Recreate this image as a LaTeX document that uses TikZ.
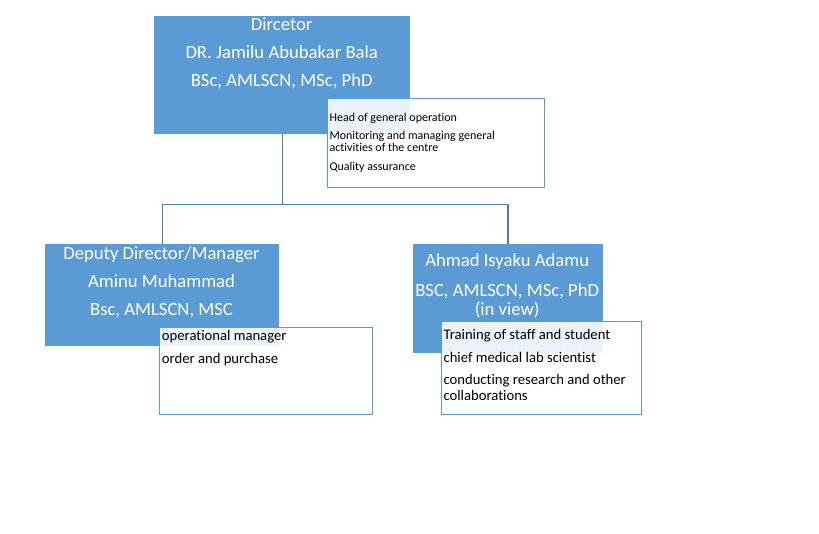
\documentclass[tikz,border=0pt]{standalone}
\usepackage{fontspec}
\setmainfont{Carlito}[Ligatures=NoCommon]
\usetikzlibrary{positioning}
\definecolor{postblue}{HTML}{5B9BD5}
\definecolor{linkblue}{HTML}{4A7EBB}
\tikzset{
  post/.style={fill=postblue, inner sep=0pt, anchor=north west},
  duty/.style={draw=postblue, line width=0.75pt, fill=white, fill opacity=0.88, inner sep=0pt, anchor=north west},
  posttext/.style={text=white, inner sep=0pt, anchor=base, font=\fontsize{14}{17}\selectfont},
  dutytext/.style={inner sep=0pt, anchor=base west, font=\fontsize{11}{13}\selectfont},
  link/.style={draw=linkblue, line width=0.9pt}
}
\begin{document}
\begin{tikzpicture}[x=0.75pt,y=-0.75pt]
\useasboundingbox (0,0) rectangle (819,533);

%posts
\node[post, minimum width=191.8pt, minimum height=88pt] (dir) at (154,16) {};
\node[post, minimum width=175.5pt, minimum height=76.3pt] (dep) at (45,244) {};
\node[post, minimum width=143pt, minimum height=81.2pt] (lab) at (412.3,244) {};

%links
\coordinate[below=53.25pt of dir.south] (split);
\draw[link] (dir.south) -- (split) -| (dep.north);
\draw[link] (split) -| (lab.north);

%director
\node[posttext] (dir1) at (281.7,30) {Dircetor};
\node[posttext] (dir2) at (281.7,58.3) {DR. Jamilu Abubakar Bala};
\node[posttext] (dir3) at (281.7,86.7) {BSc, AMLSCN, MSc, PhD};
%deputy
\node[posttext] (dep1) at (161.5,259.3) {Deputy Director/Manager};
\node[posttext] (dep2) at (161.5,287.7) {Aminu Muhammad};
\node[posttext] (dep3) at (161.5,315.7) {Bsc, AMLSCN, MSC};
%lab scientist
\node[posttext] (lab1) at (507.2,266.7) {Ahmad Isyaku Adamu};
\node[posttext] (lab2) at (507.2,296) {BSC, AMLSCN, MSc, PhD};
\node[posttext] (lab3) at (507.2,315) {(in view)};

%duties
\node[duty, minimum width=162.3pt, minimum height=66.5pt] (dirduty) at (327.3,98.3) {};
\node[dutytext, font=\fontsize{9}{11}\selectfont] (dd1) at (329.3,121) {Head of general operation};
\node[dutytext, font=\fontsize{9}{11}\selectfont] (dd2) at (329.3,139.3) {Monitoring and managing general};
\node[dutytext, font=\fontsize{9}{11}\selectfont] (dd3) at (329.3,151) {activities of the centre};
\node[dutytext, font=\fontsize{9}{11}\selectfont] (dd4) at (329.3,170.5) {Quality assurance};

\node[duty, minimum width=159.8pt, minimum height=65pt] (depduty) at (158.7,327.3) {};
\node[dutytext] (pd1) at (161.7,340) {operational manager};
\node[dutytext] (pd2) at (161.7,363.3) {order and purchase};

\node[duty, minimum width=150.5pt, minimum height=70.2pt] (labduty) at (440.7,320.7) {};
\node[dutytext] (ld1) at (443.3,339.3) {Training of staff and student};
\node[dutytext] (ld2) at (443.3,362.7) {chief medical lab scientist};
\node[dutytext] (ld3) at (443.3,384.3) {conducting research and other};
\node[dutytext] (ld4) at (443.3,400.3) {collaborations};

\end{tikzpicture}
\end{document}
